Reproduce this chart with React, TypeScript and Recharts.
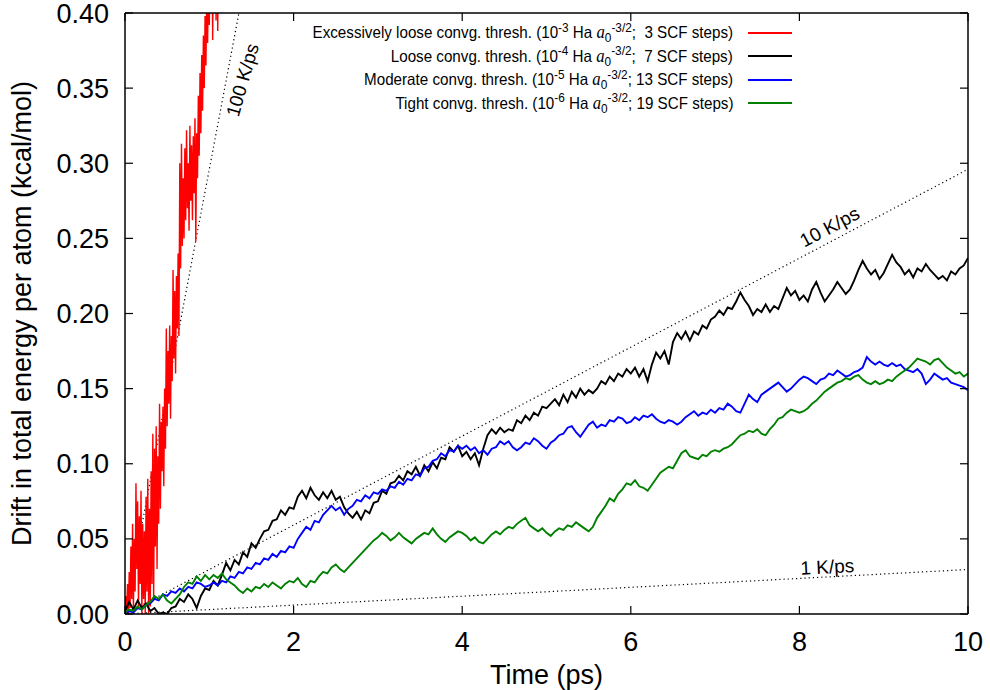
import React from 'react';
import { LineChart, Line, XAxis, YAxis, ReferenceLine, ReferenceDot, Legend } from 'recharts';

const FONT = '"Liberation Sans", Arial, Helvetica, sans-serif';

// ---------- axis ticks ----------
const timeTicks = [0, 2, 4, 6, 8, 10];
const driftTicks = [0, 0.05, 0.1, 0.15, 0.2, 0.25, 0.3, 0.35, 0.4];

// ---------- sampling of the traces (ps) ----------
const RED_STEP = 0.01;
const STEP = 0.05;

// ---------- series values (kcal/mol) ----------
const redDrift = [
  0.000, 0.012, 0.002, 0.020, 0.000, 0.028, 0.004, 0.045, 0.010, 0.060,
  0.003, 0.050, 0.015, 0.087, 0.030, 0.075, 0.005, 0.065, 0.020, 0.082,
  0.000, 0.060, 0.010, 0.055, 0.000, 0.078, 0.015, 0.090, 0.000, 0.070,
  0.005, 0.095, 0.020, 0.120, 0.010, 0.110, 0.045, 0.125, 0.030, 0.105,
  0.060, 0.140, 0.070, 0.128, 0.095, 0.138, 0.085, 0.150, 0.110, 0.190,
  0.125, 0.175, 0.140, 0.192, 0.130, 0.185, 0.155, 0.229, 0.170, 0.215,
  0.160, 0.225, 0.190, 0.240, 0.185, 0.300, 0.230, 0.313, 0.245, 0.290,
  0.250, 0.310, 0.262, 0.322, 0.270, 0.300, 0.255, 0.325, 0.275, 0.312,
  0.262, 0.318, 0.280, 0.330, 0.248, 0.320, 0.290, 0.345, 0.305, 0.360,
  0.320, 0.372, 0.335, 0.385, 0.350, 0.398, 0.365, 0.415, 0.380, 0.430,
  0.392, 0.440, 0.400, 0.450, 0.382, 0.455, 0.410, 0.460, 0.395, 0.470,
  0.388, 0.465, 0.430,
];

const blackDrift = [
  0.002, 0.008, 0.003, 0.009, 0.004, 0.007, 0.002, 0.004, 0.000, 0.001, 0.000, 0.004, 0.005, 0.010, 0.008, 0.013, 0.010, 0.004, 0.012, 0.017,
  0.016, 0.022, 0.019, 0.026, 0.034, 0.029, 0.036, 0.033, 0.041, 0.038, 0.047, 0.044, 0.050, 0.055, 0.056, 0.062, 0.063, 0.069, 0.066, 0.071,
  0.070, 0.078, 0.082, 0.077, 0.084, 0.079, 0.076, 0.081, 0.077, 0.082, 0.076, 0.078, 0.071, 0.067, 0.064, 0.068, 0.063, 0.069, 0.067, 0.074,
  0.075, 0.082, 0.080, 0.087, 0.088, 0.092, 0.089, 0.095, 0.093, 0.098, 0.092, 0.099, 0.095, 0.101, 0.097, 0.104, 0.103, 0.111, 0.108, 0.112,
  0.105, 0.108, 0.103, 0.107, 0.099, 0.110, 0.119, 0.123, 0.120, 0.124, 0.121, 0.123, 0.122, 0.129, 0.127, 0.132, 0.129, 0.134, 0.132, 0.138,
  0.137, 0.140, 0.143, 0.139, 0.146, 0.141, 0.148, 0.144, 0.150, 0.146, 0.149, 0.147, 0.150, 0.155, 0.153, 0.158, 0.155, 0.160, 0.158, 0.163,
  0.160, 0.164, 0.158, 0.163, 0.155, 0.166, 0.174, 0.170, 0.175, 0.166, 0.181, 0.187, 0.183, 0.188, 0.182, 0.188, 0.186, 0.192, 0.190, 0.196,
  0.198, 0.202, 0.199, 0.204, 0.203, 0.208, 0.214, 0.209, 0.205, 0.199, 0.203, 0.201, 0.206, 0.201, 0.205, 0.203, 0.210, 0.217, 0.212, 0.215,
  0.209, 0.212, 0.208, 0.216, 0.221, 0.214, 0.208, 0.212, 0.216, 0.221, 0.217, 0.213, 0.216, 0.222, 0.229, 0.235, 0.230, 0.226, 0.229, 0.223,
  0.227, 0.233, 0.239, 0.234, 0.231, 0.226, 0.229, 0.224, 0.230, 0.228, 0.233, 0.229, 0.226, 0.223, 0.225, 0.222, 0.228, 0.226, 0.230, 0.232,
  0.237,
];

const blueDrift = [
  0.000, 0.002, 0.001, 0.004, 0.003, 0.006, 0.007, 0.010, 0.009, 0.013, 0.012, 0.015, 0.014, 0.017, 0.015, 0.018, 0.017, 0.021, 0.020, 0.018,
  0.019, 0.021, 0.019, 0.022, 0.021, 0.025, 0.024, 0.028, 0.027, 0.031, 0.030, 0.034, 0.033, 0.037, 0.036, 0.040, 0.038, 0.042, 0.041, 0.045,
  0.044, 0.050, 0.054, 0.058, 0.056, 0.062, 0.061, 0.066, 0.069, 0.072, 0.069, 0.071, 0.066, 0.070, 0.072, 0.076, 0.075, 0.079, 0.077, 0.081,
  0.080, 0.083, 0.082, 0.085, 0.084, 0.088, 0.086, 0.090, 0.089, 0.093, 0.092, 0.097, 0.098, 0.102, 0.103, 0.107, 0.105, 0.109, 0.108, 0.112,
  0.110, 0.112, 0.109, 0.111, 0.107, 0.109, 0.106, 0.110, 0.111, 0.115, 0.113, 0.115, 0.111, 0.109, 0.111, 0.114, 0.113, 0.117, 0.115, 0.112,
  0.110, 0.114, 0.116, 0.119, 0.120, 0.124, 0.125, 0.121, 0.118, 0.122, 0.126, 0.128, 0.124, 0.126, 0.125, 0.129, 0.128, 0.131, 0.130, 0.127,
  0.128, 0.131, 0.129, 0.132, 0.131, 0.133, 0.130, 0.128, 0.127, 0.129, 0.128, 0.126, 0.128, 0.131, 0.133, 0.135, 0.132, 0.134, 0.133, 0.136,
  0.134, 0.137, 0.136, 0.140, 0.138, 0.135, 0.134, 0.140, 0.146, 0.143, 0.141, 0.146, 0.148, 0.150, 0.152, 0.154, 0.151, 0.148, 0.150, 0.153,
  0.156, 0.158, 0.157, 0.155, 0.153, 0.156, 0.157, 0.160, 0.159, 0.162, 0.160, 0.158, 0.159, 0.161, 0.162, 0.164, 0.171, 0.168, 0.166, 0.168,
  0.166, 0.165, 0.167, 0.165, 0.166, 0.163, 0.162, 0.161, 0.163, 0.160, 0.153, 0.156, 0.160, 0.158, 0.156, 0.157, 0.154, 0.153, 0.152, 0.151,
  0.149,
];

const greenDrift = [
  0.001, 0.003, 0.002, 0.005, 0.003, 0.006, 0.008, 0.012, 0.010, 0.013, 0.009, 0.007, 0.010, 0.013, 0.018, 0.021, 0.020, 0.025, 0.022, 0.026,
  0.023, 0.026, 0.024, 0.027, 0.023, 0.021, 0.019, 0.016, 0.014, 0.017, 0.015, 0.018, 0.017, 0.020, 0.018, 0.021, 0.019, 0.017, 0.020, 0.022,
  0.021, 0.024, 0.020, 0.018, 0.022, 0.021, 0.025, 0.028, 0.027, 0.031, 0.033, 0.030, 0.028, 0.031, 0.034, 0.037, 0.040, 0.043, 0.046, 0.049,
  0.051, 0.054, 0.052, 0.049, 0.051, 0.054, 0.051, 0.049, 0.047, 0.050, 0.052, 0.054, 0.053, 0.057, 0.053, 0.050, 0.048, 0.051, 0.053, 0.055,
  0.054, 0.052, 0.049, 0.051, 0.048, 0.047, 0.050, 0.053, 0.055, 0.053, 0.056, 0.058, 0.057, 0.060, 0.062, 0.064, 0.059, 0.057, 0.055, 0.057,
  0.054, 0.052, 0.055, 0.057, 0.056, 0.059, 0.058, 0.061, 0.059, 0.057, 0.055, 0.058, 0.064, 0.068, 0.072, 0.077, 0.075, 0.080, 0.083, 0.087,
  0.086, 0.089, 0.085, 0.084, 0.082, 0.086, 0.090, 0.094, 0.096, 0.098, 0.097, 0.102, 0.107, 0.109, 0.105, 0.104, 0.103, 0.106, 0.105, 0.108,
  0.109, 0.108, 0.110, 0.111, 0.113, 0.116, 0.119, 0.120, 0.122, 0.121, 0.123, 0.120, 0.119, 0.123, 0.126, 0.130, 0.131, 0.134, 0.136, 0.135,
  0.134, 0.135, 0.137, 0.140, 0.142, 0.145, 0.148, 0.150, 0.152, 0.154, 0.155, 0.157, 0.156, 0.158, 0.159, 0.156, 0.154, 0.153, 0.155, 0.153,
  0.154, 0.156, 0.155, 0.158, 0.160, 0.162, 0.164, 0.167, 0.170, 0.169, 0.168, 0.166, 0.169, 0.170, 0.167, 0.164, 0.162, 0.160, 0.161, 0.158,
  0.160,
];

// ---------- legend / series metadata ----------
const seriesLabels = ['Excessively loose', 'Loose', 'Moderate', 'Tight'];
const seriesExponents = ['-3', '-4', '-5', '-6'];
const seriesScfSteps = [' 3', ' 7', '13', '19'];
const seriesColors = ['#ff0000', '#000000', '#0000ff', '#008000'];

// ---------- constant heating-rate guide lines ----------
const KCAL_PER_MOL_PER_K = 0.00296; // 3/2 kB
const heatingRates = [100, 10, 1];
const rateLabels = ['100 K/ps', '10 K/ps', '1 K/ps'];
const rateLabelTime = [1.394, 8.36, 8.33];
const rateLabelDrift = [0.3554, 0.2576, 0.0313];
const rateLabelAngle = [-74, -28, -3];

const toPoints = (vals: number[], step: number) =>
  vals.map((e, i) => ({ t: Math.round(i * step * 1000) / 1000, e }));

const seriesData = [
  toPoints(redDrift, RED_STEP),
  toPoints(blackDrift, STEP),
  toPoints(blueDrift, STEP),
  toPoints(greenDrift, STEP),
];
const seriesWidths = [1.4, 1.9, 1.9, 1.9];

const seriesName = (i: number) => `${seriesLabels[i]} convg. thresh.`;

const supStyle: React.CSSProperties = { fontSize: '0.78em', position: 'relative', top: '-0.5em' };
const subStyle: React.CSSProperties = { fontSize: '0.78em', position: 'relative', top: '0.3em' };
const aStyle: React.CSSProperties = { fontFamily: '"Liberation Serif", serif', fontStyle: 'italic', fontSize: '1.1em' };

const LegendBox = (props: any) => {
  const payload = props.payload || [];
  return (
    <div style={{ width: 792, fontFamily: FONT, fontSize: 16.5, color: '#000' }}>
      {payload.map((item: any) => {
        const i = seriesLabels.findIndex((_, k) => seriesName(k) === item.value);
        if (i < 0) return null;
        return (
          <div
            key={item.value}
            style={{ display: 'flex', justifyContent: 'flex-end', alignItems: 'center', height: 23.5, whiteSpace: 'pre' }}
          >
            <span style={{ display: 'inline-block', transform: 'scaleX(0.92)', transformOrigin: 'right center' }}>
              {`${seriesLabels[i]} convg. thresh. (10`}
              <span style={supStyle}>{seriesExponents[i]}</span>
              {' Ha '}
              <span style={aStyle}>a</span>
              <span style={subStyle}>0</span>
              <span style={supStyle}>-3/2</span>
              {`; ${seriesScfSteps[i]} SCF steps)`}
            </span>
            <span
              style={{ display: 'inline-block', width: 44, height: 0, borderTop: `2px solid ${seriesColors[i]}`, marginLeft: 15 }}
            />
          </div>
        );
      })}
    </div>
  );
};

const renderXTitle = (props: any) => {
  const vb = props.viewBox;
  return (
    <text x={vb.x + vb.width / 2} y={vb.y + 61} textAnchor="middle" dominantBaseline="central" fontSize={27} fontFamily={FONT} fill="#000">
      Time (ps)
    </text>
  );
};

const renderYTitle = (props: any) => {
  const vb = props.viewBox;
  const cx = vb.x + 22;
  const cy = vb.y + vb.height / 2;
  return (
    <text x={cx} y={cy} transform={`rotate(-90 ${cx} ${cy})`} textAnchor="middle" dominantBaseline="central" fontSize={27} fontFamily={FONT} fill="#000">
      Drift in total energy per atom (kcal/mol)
    </text>
  );
};

const makeRateLabel = (i: number) => (props: any) => {
  const vb = props.viewBox;
  const cx = vb.x + vb.width / 2;
  const cy = vb.y + vb.height / 2;
  return (
    <text x={cx} y={cy} transform={`rotate(${rateLabelAngle[i]} ${cx} ${cy})`} textAnchor="middle" dominantBaseline="central" fontSize={19} fontFamily={FONT} fill="#000">
      {rateLabels[i]}
    </text>
  );
};

const axisLine = { stroke: '#000', strokeWidth: 1.5 };
const tickLine = { stroke: '#000', strokeWidth: 1.2 };
const tickFont = { fontSize: 27, fill: '#000', fontFamily: FONT };

export default function App() {
  return (
    <div style={{ position: 'absolute', left: 0, top: 0, width: 990, height: 690, background: '#fff' }}>
      <LineChart width={990} height={690} margin={{ top: 12, right: 21, bottom: 0, left: 0 }}>
        <XAxis
          xAxisId={0}
          dataKey="t"
          type="number"
          domain={[0, 10]}
          ticks={timeTicks}
          interval={0}
          allowDataOverflow
          height={76}
          tickSize={-8}
          tickMargin={26}
          axisLine={axisLine}
          tickLine={tickLine}
          tick={tickFont}
          label={renderXTitle}
        />
        <XAxis
          xAxisId="top"
          orientation="top"
          dataKey="t"
          type="number"
          domain={[0, 10]}
          ticks={timeTicks}
          interval={0}
          allowDataOverflow
          height={1}
          tickSize={-8}
          axisLine={axisLine}
          tickLine={tickLine}
          tickFormatter={() => ''}
        />
        <YAxis
          yAxisId={0}
          type="number"
          domain={[0, 0.4]}
          ticks={driftTicks}
          interval={0}
          allowDataOverflow
          width={125}
          tickSize={-8}
          tickMargin={24}
          axisLine={axisLine}
          tickLine={tickLine}
          tick={tickFont}
          tickFormatter={(v: number) => v.toFixed(2)}
          label={renderYTitle}
        />
        <YAxis
          yAxisId="right"
          orientation="right"
          type="number"
          domain={[0, 0.4]}
          ticks={driftTicks}
          interval={0}
          allowDataOverflow
          width={1}
          tickSize={-8}
          axisLine={axisLine}
          tickLine={tickLine}
          tickFormatter={() => ''}
        />

        {heatingRates.map((rate) => (
          <ReferenceLine
            key={`rl-${rate}`}
            segment={[
              { x: 0, y: 0 },
              { x: 10, y: rate * KCAL_PER_MOL_PER_K * 10 },
            ]}
            stroke="#000"
            strokeWidth={1.2}
            strokeDasharray="1.2 3"
            ifOverflow="hidden"
          />
        ))}
        {heatingRates.map((rate, i) => (
          <ReferenceDot
            key={`rd-${rate}`}
            x={rateLabelTime[i]}
            y={rateLabelDrift[i]}
            r={0}
            fill="none"
            stroke="none"
            ifOverflow="visible"
            label={makeRateLabel(i)}
          />
        ))}

        {seriesData.map((d, i) => (
          <Line
            key={seriesLabels[i]}
            data={d}
            dataKey="e"
            name={seriesName(i)}
            type="linear"
            stroke={seriesColors[i]}
            strokeWidth={seriesWidths[i]}
            dot={false}
            activeDot={false}
            isAnimationActive={false}
          />
        ))}

        <Legend
          layout="vertical"
          align="center"
          verticalAlign="middle"
          wrapperStyle={{ left: 0, top: 21, width: 792 }}
          content={(p: any) => <LegendBox payload={p.payload} />}
        />
      </LineChart>
    </div>
  );
}
